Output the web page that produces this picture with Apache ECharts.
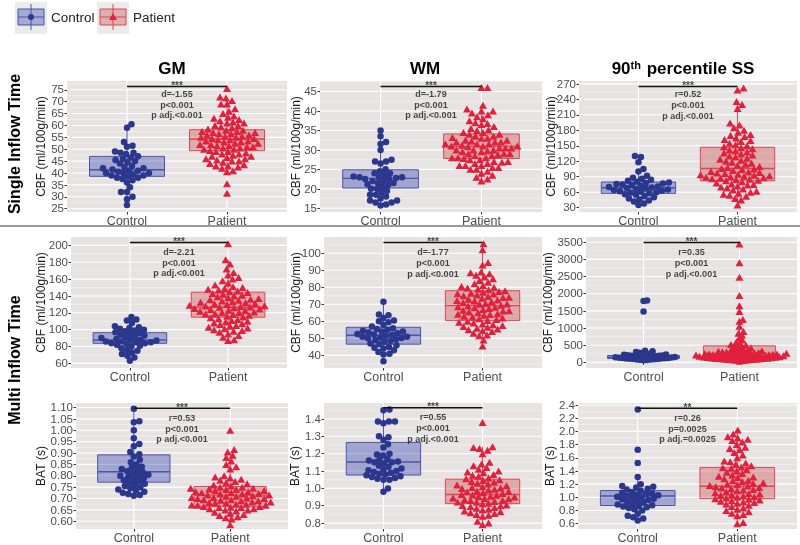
<!DOCTYPE html>
<html><head><meta charset="utf-8">
<script src="https://cdn.jsdelivr.net/npm/echarts@6/dist/echarts.min.js"></script>
<style>html,body{margin:0;padding:0;background:#fff}#c{width:800px;height:545px}</style>
</head><body><div id="c"></div>
<script>
// ---------- DATA ----------
const categories = ['Control', 'Patient'];

const gm1Ticks = [25,30,35,40,45,50,55,60,65,70,75];
const wm1Ticks = [15,20,25,30,35,40,45];
const ss1Ticks = [30,60,90,120,150,180,210,240,270];
const gm2Ticks = [60,80,100,120,140,160,180,200];
const wm2Ticks = [40,50,60,70,80,90,100];
const ss2Ticks = [0,500,1000,1500,2000,2500,3000,3500];
const gm3Ticks = [0.60,0.65,0.70,0.75,0.80,0.85,0.90,0.95,1.00,1.05,1.10];
const wm3Ticks = [0.8,0.9,1.0,1.1,1.2,1.3,1.4];
const ss3Ticks = [0.6,0.8,1.0,1.2,1.4,1.6,1.8,2.0,2.2,2.4];

// GM single inflow
const gm1Control = [60.5,59,53,51.5,51,49,48.5,48.5,48,47,46.5,46,45.5,45,44.5,44,43,42.5,42,42,41.5,41,41,40.5,40,40,40,39.5,39,39,38.5,38,38,37.5,37,36,34,32,32,30,29,26.5];
const gm1Patient = [75.5,72,71.5,70.5,69,69,67,66,65,64,63.5,63,62.5,62,61.5,61,61,60,60,59.5,59,58.5,58,58,57.5,57.5,57,57,56.5,56.5,56,56,55.5,55.5,55,55,54.5,54.5,54,54,53.5,53.5,53,53,52.5,52.5,52,52,51.5,51.5,51,51,50.5,50.5,50,50,49.5,49,49,48.5,48,48,47.5,47,47,46.5,46,46,45.5,45,45,44.5,44,43.5,43,43,42.5,42,41,40.5,35.5,31.5];
const gm1ControlBox = [26.5,38.6,41.4,47.0,60.5];
const gm1PatientBox = [40.5,49.4,54.3,58.2,71];

// WM single inflow
const wm1Control = [35,33.5,32,31.5,30,27.5,27,27,26.5,25,24.5,24,24,23.5,23,23,23,22.5,22.5,22,22,21.5,21.5,21,20.5,20,20,19.5,19,18.5,18.5,18,17.5,17,17,16.5,16.5,16,15.7,22.8,23.2,21.2];
const wm1Patient = [46,46,41.5,40.5,40,40,39.5,39,38.5,38,37.5,37,36.5,36,35.5,35,34.5,34.5,34,34,33.5,33.5,33,33,32.5,32.5,32,32,32,31.5,31.5,31.5,31,31,31,30.5,30.5,30.5,30,30,30,29.5,29.5,29,29,29,28.5,28.5,28,28,28,27.5,27.5,27,27,26.5,26.5,26,26,26,25.5,25.5,25,25,24.5,24,23.5,23,22.5,22,30.8,31.2,32.2,29.8,28.8,33.2,27.8,26.8,35.2,36.8];
const wm1ControlBox = [15.7,20.2,22.7,24.9,35];
const wm1PatientBox = [22,27.8,30.9,34.1,41.5];

// 90th percentile SS single inflow
const ss1Control = [130,128,118,105,100,92,88,86,84,82,80,79,78,77,76,75,74,72,71,70,69,68,67,66,65,64,63,62,61,60,59,58,56,55,52,50,48,46,44,42,38,35];
const ss1Patient = [262,258,236,230,222,194,190,185,180,176,172,170,168,165,162,160,158,155,152,150,148,146,144,142,140,138,136,134,132,130,128,126,124,122,120,118,116,114,112,110,108,106,105,104,102,100,99,98,97,96,95,94,93,92,91,90,89,88,87,86,85,84,83,82,80,78,76,75,74,72,70,68,66,64,62,60,58,56,54,52,48,45,35];
const ss1ControlBox = [35,57.7,68.7,79.7,105];
const ss1PatientBox = [35,82,106,147,236];

// GM multi inflow
const gm2Control = [115,112,111,108,104,103,102,101,100,99,98,97,96,95,94,93,92,91,90,89,88,88,87,86,86,85,85,84,84,83,82,81,80,78,76,75,73,71,69,67,63];
const gm2Patient = [202,183,178,172,168,165,162,160,158,155,153,151,150,149,148,147,146,145,144,143,142,141,140,139,138,137,136,135,134,133,132,131,130,129,128,127,126,125,124,123,122,121,120,119,118,117,116,115,114,113,112,111,110,109,108,107,106,105,104,103,102,101,100,99,98,97,95,93,91,88,87,128.5,126.5,124.5,122.5,130.5,132.5,120.5,118.5,135.5,127.5];
const gm2ControlBox = [63,83.8,87.7,96.4,115];
const gm2PatientBox = [87,114.8,126.7,144.5,183];

// WM multi inflow
const wm2Control = [71.5,64,63.5,62,60.5,60,59.5,58,57,56,55.5,55,54.5,54,54,53.5,53,52.5,52,51.5,51,51,50.5,50,49.5,49,48.5,48,47,46.5,46,45,44.5,44,43,42,41,40.5,36.5,52.2,50.2];
const wm2Patient = [105.5,102,94.5,93,89,88.5,88,87,86,85,84,83,82,81,80.5,80,79.5,79,78.5,78,77.5,77,76.5,76,75.5,75,74.5,74,73.5,73,72.5,72,71.5,71,70.5,70,69.5,69,68.5,68,67.5,67,66.5,66,65.5,65,64.5,64,63.5,63,62.5,62,61.5,61,60.5,60,59.5,59,58.5,58,57.5,57,56.5,56,55.5,55,54.5,54,53,52,51.5,49,45.5,72.2,70.2,68.2,66.2,74.2,64.2,76.2];
const wm2ControlBox = [36.5,46.6,51.8,56.5,71.5];
const wm2PatientBox = [45.5,60.4,69.2,78,102];

// 90th percentile SS multi inflow
const ss2Control = [1800,1790,1480,340,320,300,280,260,250,240,230,220,210,200,195,190,185,180,175,170,165,160,155,150,145,140,135,130,125,120,115,110,105,100,95,90,85,80,75,70,60];
const ss2Patient = [3450,2900,2480,1950,1650,1480,1250,1200,1050,900,850,800,720,650,600,560,520,500,480,460,440,420,400,380,360,350,340,330,320,310,300,290,280,270,260,255,250,245,240,235,230,225,220,215,210,205,200,195,190,185,180,175,170,165,160,155,150,145,140,135,130,125,120,115,110,105,100,95,90,85,80,75,70,60,50,30,265,275,285,215,195,175];
const ss2ControlBox = [60,110,150,200,340];
const ss2PatientBox = [30,150,260,480,1000];

// GM BAT
const gm3Control = [1.095,1.04,1.035,1.0,0.965,0.94,0.93,0.905,0.895,0.885,0.87,0.86,0.85,0.84,0.835,0.83,0.825,0.82,0.815,0.81,0.8,0.8,0.795,0.79,0.78,0.775,0.77,0.765,0.76,0.755,0.75,0.745,0.74,0.735,0.73,0.725,0.72,0.715,0.712,0.805,0.785];
const gm3Patient = [1.0,0.915,0.905,0.89,0.88,0.865,0.85,0.84,0.83,0.8,0.795,0.79,0.785,0.78,0.775,0.77,0.765,0.76,0.755,0.75,0.75,0.745,0.745,0.74,0.74,0.735,0.735,0.73,0.73,0.725,0.725,0.72,0.72,0.715,0.715,0.71,0.71,0.705,0.705,0.7,0.7,0.695,0.695,0.69,0.69,0.685,0.685,0.68,0.68,0.675,0.675,0.67,0.67,0.665,0.665,0.66,0.66,0.655,0.655,0.65,0.65,0.645,0.64,0.635,0.63,0.625,0.62,0.615,0.61,0.585,0.722,0.702,0.682,0.662,0.742,0.712,0.692,0.672];
const gm3ControlBox = [0.712,0.772,0.818,0.892,1.095];
const gm3PatientBox = [0.585,0.664,0.715,0.753,0.88];

// WM BAT
const wm3Control = [1.455,1.45,1.385,1.385,1.385,1.375,1.3,1.295,1.28,1.255,1.235,1.2,1.195,1.19,1.17,1.16,1.155,1.15,1.15,1.145,1.13,1.115,1.11,1.1,1.095,1.09,1.085,1.08,1.075,1.07,1.065,1.06,1.055,1.05,1.05,1.0,0.98,1.125,1.105,1.165];
const wm3Patient = [1.38,1.24,1.235,1.23,1.22,1.2,1.15,1.14,1.13,1.12,1.11,1.1,1.095,1.09,1.08,1.075,1.07,1.06,1.055,1.05,1.045,1.04,1.035,1.03,1.025,1.02,1.015,1.01,1.005,1.0,0.995,0.99,0.985,0.98,0.975,0.97,0.965,0.96,0.955,0.95,0.945,0.94,0.935,0.93,0.925,0.92,0.915,0.91,0.905,0.9,0.895,0.89,0.885,0.88,0.875,0.87,0.865,0.86,0.855,0.85,0.845,0.84,0.81,0.8,0.79,0.962,0.942,0.922,0.982,1.002,0.952,0.932,0.902];
const wm3ControlBox = [0.98,1.077,1.152,1.265,1.455];
const wm3PatientBox = [0.79,0.912,0.965,1.053,1.24];

// 90th percentile SS BAT
const ss3Control = [2.33,1.72,1.52,1.31,1.2,1.17,1.16,1.15,1.13,1.12,1.1,1.08,1.07,1.06,1.05,1.04,1.03,1.02,1.01,1.0,0.99,0.98,0.97,0.96,0.95,0.93,0.92,0.9,0.89,0.88,0.87,0.86,0.85,0.84,0.82,0.8,0.75,0.72,0.7,0.68,0.65];
const ss3Patient = [2.02,1.96,1.92,1.9,1.88,1.86,1.84,1.8,1.76,1.74,1.72,1.68,1.64,1.6,1.55,1.54,1.52,1.5,1.48,1.46,1.44,1.42,1.4,1.38,1.36,1.34,1.32,1.3,1.28,1.26,1.24,1.22,1.2,1.19,1.18,1.17,1.16,1.15,1.14,1.13,1.12,1.1,1.08,1.06,1.05,1.04,1.03,1.02,1.01,1.0,0.99,0.98,0.97,0.96,0.95,0.94,0.93,0.92,0.9,0.88,0.86,0.84,0.82,0.8,0.78,0.76,0.74,0.72,0.62,0.6,1.11,1.21,1.31,1.07,0.91,1.45,1.25];
const ss3ControlBox = [0.65,0.876,1.02,1.103,1.31];
const ss3PatientBox = [0.6,0.98,1.168,1.453,2.02];

const bracketY = [76.4, 46.3, 264.8, 203.6, 106.2, 3490, 1.097, 1.465, 2.35];
const starLabels = ['***','***','***','***','***','***','***','***','**'];
const statLabels = [
  ['d=-1.55','p<0.001','p adj.<0.001'],
  ['d=-1.79','p<0.001','p adj.<0.001'],
  ['r=0.52','p<0.001','p adj.<0.001'],
  ['d=-2.21','p<0.001','p adj.<0.001'],
  ['d=-1.77','p<0.001','p adj.<0.001'],
  ['r=0.35','p<0.001','p adj.<0.001'],
  ['r=0.53','p<0.001','p adj.<0.001'],
  ['r=0.55','p<0.001','p adj.<0.001'],
  ['r=0.26','p=0.0025','p adj.=0.0025']
];
const yNames = ['CBF (ml/100g/min)','CBF (ml/100g/min)','CBF (ml/100g/min)','CBF (ml/100g/min)','CBF (ml/100g/min)','CBF (ml/100g/min)','BAT (s)','BAT (s)','BAT (s)'];
const panelTitles = ['GM','WM','90th percentile SS'];
const rowTitles = ['Single Inflow Time','Multi Inflow Time'];

// ---------- LAYOUT ----------
const FONT = 'Liberation Sans, Arial, sans-serif';
const C_PT = '#2B378C', P_PT = '#E0203C';
const C_FILL = 'rgba(60,70,180,0.40)', P_FILL = 'rgba(200,60,60,0.35)';
const C_LINE = '#4A55A6', P_LINE = '#DE4655';
const BG = '#E7E3E3';

const panels = [
  {g:[67,81,220,131],  r:[23.6,78.7],  t:gm1Ticks, d:0, nx:42,  c:gm1Control, p:gm1Patient, cb:gm1ControlBox, pb:gm1PatientBox, D:5.6, sd:3},
  {g:[320,81,222,131], r:[14.05,47.7], t:wm1Ticks, d:0, nx:297, c:wm1Control, p:wm1Patient, cb:wm1ControlBox, pb:wm1PatientBox, D:5.6, sd:3},
  {g:[579,81,218,131], r:[21.6,275.5], t:ss1Ticks, d:0, nx:552, c:ss1Control, p:ss1Patient, cb:ss1ControlBox, pb:ss1PatientBox, D:5.6, sd:3},
  {g:[71,237,216,131], r:[54.5,210],   t:gm2Ticks, d:0, nx:42,  c:gm2Control, p:gm2Patient, cb:gm2ControlBox, pb:gm2PatientBox, D:5.6, sd:5},
  {g:[324,237,218,131],r:[32.6,109.5], t:wm2Ticks, d:0, nx:297, c:wm2Control, p:wm2Patient, cb:wm2ControlBox, pb:wm2PatientBox, D:5.6, sd:5},
  {g:[586,237,211,131],r:[-165,3653],  t:ss2Ticks, d:0, nx:549, c:ss2Control, p:ss2Patient, cb:ss2ControlBox, pb:ss2PatientBox, D:3.3, sd:5},
  {g:[76,403,212,129], r:[0.566,1.12], t:gm3Ticks, d:2, nx:42,  c:gm3Control, p:gm3Patient, cb:gm3ControlBox, pb:gm3PatientBox, D:5.6, sd:5},
  {g:[324,403,218,129],r:[0.766,1.492],t:wm3Ticks, d:1, nx:296, c:wm3Control, p:wm3Patient, cb:wm3ControlBox, pb:wm3PatientBox, D:5.6, sd:5},
  {g:[578,403,219,129],r:[0.52,2.43],  t:ss3Ticks, d:1, nx:551, c:ss3Control, p:ss3Patient, cb:ss3ControlBox, pb:ss3PatientBox, D:5.6, sd:5}
];

// beeswarm layout (deterministic packing computed from the values)
function swarm(values, center, pxX, pxY, D) {
  const idx = values.map((v, i) => i).sort((a, b) => values[a] - values[b]);
  const placed = [];
  const out = new Array(values.length);
  for (const i of idx) {
    const py = values[i] * pxY;
    let best = 0;
    for (let k = 0; k < 2000; k++) {
      const dx = (k % 2 === 1 ? 1 : -1) * Math.ceil(k / 2) * 0.5;
      let ok = true;
      for (const q of placed) {
        const ddy = py - q.py;
        if (Math.abs(ddy) >= D) continue;
        const ddx = dx - q.dx;
        if (ddx * ddx + ddy * ddy < D * D) { ok = false; break; }
      }
      if (ok) { best = dx; break; }
    }
    placed.push({ py, dx: best });
    out[i] = [center + best / pxX, values[i]];
  }
  return out;
}

const grids = [], xAxes = [], yAxes = [], series = [];
panels.forEach((pn, i) => {
  const [L, T, W, H] = pn.g;
  grids.push({ left: L, top: T, width: W, height: H, show: true, backgroundColor: BG, borderWidth: 0 });
  xAxes.push({
    type: 'value', gridIndex: i, min: 0.4, max: 2.6,
    axisLine: { show: false },
    axisTick: { show: true, customValues: [1, 2], length: 2.5, lineStyle: { color: '#333', width: 1 } },
    axisLabel: { customValues: [1, 2], formatter: v => categories[Math.round(v) - 1], color: '#4D4D4D', fontSize: 12.5, fontFamily: FONT, margin: 3 },
    splitLine: { show: false }
  });
  yAxes.push({
    type: 'value', gridIndex: i, min: pn.r[0], max: pn.r[1],
    name: yNames[i], nameLocation: 'middle', nameRotate: 90, nameGap: L - pn.nx - 6,
    nameTextStyle: { color: '#1A1A1A', fontSize: 12, fontFamily: FONT },
    axisLine: { show: false },
    axisTick: { show: true, customValues: pn.t, length: 2.5, lineStyle: { color: '#333', width: 1 } },
    axisLabel: { show: false },
    splitLine: { show: false }
  });
  // grid lines + y tick labels (placed through the axis scale)
  const step = pn.t[1] - pn.t[0];
  const minors = [];
  pn.t.forEach(v => { [v - step / 2, v + step / 2].forEach(m => { if (m > pn.r[0] && m < pn.r[1] && !minors.some(x => Math.abs(x - m) < 1e-9)) minors.push(m); }); });
  series.push({
    type: 'custom', xAxisIndex: i, yAxisIndex: i, silent: true, z: 0, clip: false,
    data: [[1, pn.r[0]]],
    renderItem: (params, api) => {
      const cs = params.coordSys;
      const ch = [];
      minors.forEach(m => { const y = api.coord([1, m])[1]; ch.push({ type: 'line', shape: { x1: cs.x, y1: y, x2: cs.x + cs.width, y2: y }, style: { stroke: '#F6F4F4', lineWidth: 0.6 } }); });
      pn.t.forEach(m => { const y = api.coord([1, m])[1]; ch.push({ type: 'line', shape: { x1: cs.x, y1: y, x2: cs.x + cs.width, y2: y }, style: { stroke: '#FFFFFF', lineWidth: 1.1 } }); });
      [1, 2].forEach(c => { const x = api.coord([c, pn.r[0]])[0]; ch.push({ type: 'line', shape: { x1: x, y1: cs.y, x2: x, y2: cs.y + cs.height }, style: { stroke: '#FFFFFF', lineWidth: 1.1 } }); });
      pn.t.forEach(m => { const y = api.coord([1, m])[1]; ch.push({ type: 'text', x: cs.x - 3, y: y + 0.5, style: { text: m.toFixed(pn.d), fontSize: 11.5, fontFamily: FONT, fill: '#4D4D4D', align: 'right', verticalAlign: 'middle' } }); });
      return { type: 'group', children: ch };
    }
  });
  // boxes
  series.push({
    type: 'custom', xAxisIndex: i, yAxisIndex: i, silent: true, z: 2,
    data: [[1].concat(pn.cb), [2].concat(pn.pb)],
    renderItem: (params, api) => {
      const x = api.value(0), lo = api.value(1), q1 = api.value(2), md = api.value(3), q3 = api.value(4), hi = api.value(5);
      const hw = 0.375;
      const isC = params.dataIndex === 0;
      const stroke = isC ? C_LINE : P_LINE, fill = isC ? C_FILL : P_FILL;
      const a = api.coord([x - hw, q3]), b = api.coord([x + hw, q1]);
      const pLo = api.coord([x, lo]), pHi = api.coord([x, hi]), pQ1 = api.coord([x, q1]), pQ3 = api.coord([x, q3]);
      const m1 = api.coord([x - hw, md]), m2 = api.coord([x + hw, md]);
      return { type: 'group', children: [
        { type: 'line', shape: { x1: pHi[0], y1: pHi[1], x2: pQ3[0], y2: pQ3[1] }, style: { stroke, lineWidth: 1 } },
        { type: 'line', shape: { x1: pLo[0], y1: pLo[1], x2: pQ1[0], y2: pQ1[1] }, style: { stroke, lineWidth: 1 } },
        { type: 'rect', shape: { x: a[0], y: a[1], width: b[0] - a[0], height: b[1] - a[1] }, style: { fill, stroke, lineWidth: 1 } },
        { type: 'line', shape: { x1: m1[0], y1: m1[1], x2: m2[0], y2: m2[1] }, style: { stroke, lineWidth: 1.4 } }
      ] };
    }
  });
  const pxX = W / 2.2, pxY = H / (pn.r[1] - pn.r[0]);
  series.push({
    type: 'scatter', xAxisIndex: i, yAxisIndex: i, z: 3, silent: true,
    symbol: 'circle', symbolSize: 6.5, itemStyle: { color: C_PT, opacity: 1 },
    data: swarm(pn.c, 1, pxX, pxY, pn.D)
  });
  series.push({
    type: 'scatter', xAxisIndex: i, yAxisIndex: i, z: 3, silent: true,
    symbol: 'triangle', symbolSize: [8, 7], itemStyle: { color: P_PT, opacity: 1 },
    data: swarm(pn.p, 2, pxX, pxY, pn.D + 0.4)
  });
  // bracket
  series.push({
    type: 'line', xAxisIndex: i, yAxisIndex: i, z: 4, silent: true,
    data: [[1, bracketY[i]], [2, bracketY[i]]], symbol: 'none',
    lineStyle: { color: '#111', width: 1.5 }, animation: false
  });
  series.push({
    type: 'scatter', xAxisIndex: i, yAxisIndex: i, z: 5, silent: true, symbolSize: 0.01,
    data: [
      { value: [1.5, bracketY[i]], label: { show: true, position: 'top', distance: -5, formatter: starLabels[i], fontSize: 10, fontWeight: 'bold', color: '#222', fontFamily: FONT } },
      { value: [1.5, bracketY[i]], label: { show: true, position: 'bottom', distance: pn.sd, formatter: statLabels[i].join('\n'), fontSize: 9, lineHeight: 10.6, fontWeight: 'bold', color: '#1A1A1A', fontFamily: FONT, align: 'center' } }
    ]
  });
});

const graphic = [
  // legend
  { type: 'rect', shape: { x: 15, y: 2, width: 32, height: 32 }, style: { fill: '#EBEBEB' } },
  { type: 'line', shape: { x1: 31, y1: 4, x2: 31, y2: 30 }, style: { stroke: C_LINE, lineWidth: 1 } },
  { type: 'rect', shape: { x: 18, y: 9, width: 26, height: 16 }, style: { fill: C_FILL, stroke: C_LINE, lineWidth: 1 } },
  { type: 'line', shape: { x1: 18, y1: 17, x2: 44, y2: 17 }, style: { stroke: C_LINE, lineWidth: 1 } },
  { type: 'circle', shape: { cx: 31, cy: 17, r: 3 }, style: { fill: C_PT } },
  { type: 'text', x: 51, y: 18, style: { text: 'Control', fontSize: 13.5, fontFamily: FONT, fill: '#222', verticalAlign: 'middle' } },
  { type: 'rect', shape: { x: 97, y: 2, width: 32, height: 32 }, style: { fill: '#EBEBEB' } },
  { type: 'line', shape: { x1: 113, y1: 4, x2: 113, y2: 30 }, style: { stroke: P_LINE, lineWidth: 1 } },
  { type: 'rect', shape: { x: 100, y: 9, width: 26, height: 16 }, style: { fill: P_FILL, stroke: P_LINE, lineWidth: 1 } },
  { type: 'line', shape: { x1: 100, y1: 17, x2: 126, y2: 17 }, style: { stroke: P_LINE, lineWidth: 1 } },
  { type: 'polygon', shape: { points: [[113, 13], [117, 20], [109, 20]] }, style: { fill: P_PT } },
  { type: 'text', x: 133, y: 18, style: { text: 'Patient', fontSize: 13.5, fontFamily: FONT, fill: '#222', verticalAlign: 'middle' } },
  // titles
  { type: 'text', x: 172, y: 69, style: { text: panelTitles[0], fontSize: 17, fontWeight: 'bold', fontFamily: FONT, fill: '#000', align: 'center', verticalAlign: 'middle' } },
  { type: 'text', x: 425, y: 69, style: { text: panelTitles[1], fontSize: 17, fontWeight: 'bold', fontFamily: FONT, fill: '#000', align: 'center', verticalAlign: 'middle' } },
  { type: 'text', x: 683, y: 69, style: {
      text: '{a|90}{s|th}{a| percentile SS}', align: 'center', verticalAlign: 'middle',
      rich: { a: { fontSize: 17, fontWeight: 'bold', fontFamily: FONT, fill: '#000' }, s: { fontSize: 11, fontWeight: 'bold', fontFamily: FONT, fill: '#000', padding: [0, 1, 7, 0] } } } },
  // row titles
  { type: 'text', x: 16, y: 144, rotation: Math.PI / 2, style: { text: rowTitles[0], fontSize: 16, fontWeight: 'bold', fontFamily: FONT, fill: '#000', align: 'center', verticalAlign: 'middle' } },
  { type: 'text', x: 16, y: 360, rotation: Math.PI / 2, style: { text: rowTitles[1], fontSize: 16, fontWeight: 'bold', fontFamily: FONT, fill: '#000', align: 'center', verticalAlign: 'middle' } },
  // separator
  { type: 'line', shape: { x1: 0, y1: 226, x2: 800, y2: 226 }, style: { stroke: '#9A9A9A', lineWidth: 2 } }
];

const chart = echarts.init(document.getElementById('c'), null, { renderer: 'canvas' });
chart.setOption({
  animation: false,
  backgroundColor: '#FFFFFF',
  textStyle: { fontFamily: FONT },
  grid: grids, xAxis: xAxes, yAxis: yAxes, series, graphic
});
</script></body></html>
